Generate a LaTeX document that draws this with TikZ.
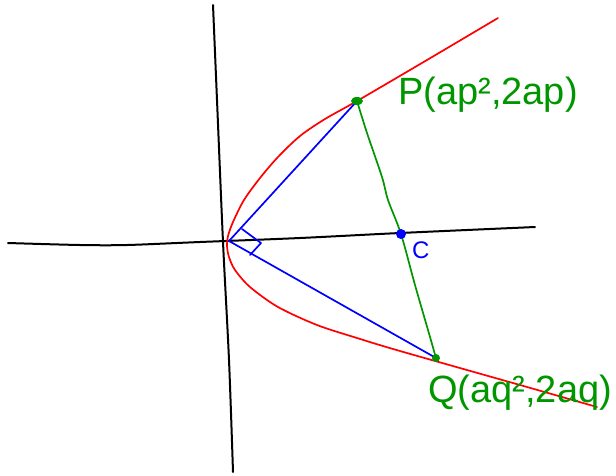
\documentclass[tikz,border=0pt]{standalone}
\usepackage{fontspec}
\setmainfont{Liberation Sans}
\definecolor{pgreen}{RGB}{0,150,0}
\begin{document}
\begin{tikzpicture}[x=1pt,y=-1pt,
  axisline/.style={black,line width=2pt,line cap=round,line join=round},
  parab/.style={red,line width=1.7pt,line cap=round,line join=round},
  bluel/.style={blue,line width=1.7pt,line cap=round,line join=round},
  greenl/.style={pgreen,line width=1.7pt,line cap=round,line join=round},
  lbl/.style={inner sep=0pt,anchor=base west}]
\useasboundingbox (0,0) rectangle (616,475);
% axes
\draw[axisline] plot[smooth] coordinates {(213,5) (217,100) (223,242) (229,360) (233,472)};
\draw[axisline] plot[smooth] coordinates {(8,243) (80,245) (127,245) (200,242) (300,238) (400,233) (535,227)};
% key points
\coordinate (O) at (229,241);
\coordinate (P) at (357,101);
\coordinate (Q) at (436,358);
\coordinate (C) at (401,234);
% parabola
\draw[parab] plot[smooth,tension=0.5] coordinates {(498,18) (427,60) (357,101) (325,119) (300,136) (278,157) (260,178) (244,200) (233,222) (228,236) (227,246) (229,257) (235,270) (250,287) (278,307) (317,325) (357,338) (400,351) (520,385) (597,407)};
% blue chords
\draw[bluel] (O) -- (P);
\draw[bluel] (O) -- (Q);
% right angle mark
\coordinate (r1) at (242,229);
\coordinate (r2) at (261,243);
\coordinate (r3) at (250,255);
\draw[bluel] (r1) -- (r2) -- (r3);
% green chord
\draw[greenl] plot[smooth,tension=0.5] coordinates {(P) (367,133) (382,177) (388,200) (C) (415,285) (428,330) (Q)};
% dots
\fill[pgreen] (P) ellipse [x radius=6, y radius=4];
\fill[pgreen] (Q) circle [radius=4];
\fill[blue] (C) circle [radius=5];
% labels
\node[lbl,text=pgreen,font=\fontsize{38}{38}\selectfont] (Plabel) at (398,104) {P(ap²,2ap)};
\node[lbl,text=pgreen,font=\fontsize{38}{38}\selectfont] (Qlabel) at (428,402) {Q(aq²,2aq)};
\node[lbl,text=blue,font=\fontsize{24}{24}\selectfont] (Clabel) at (412,258) {C};
\end{tikzpicture}
\end{document}
